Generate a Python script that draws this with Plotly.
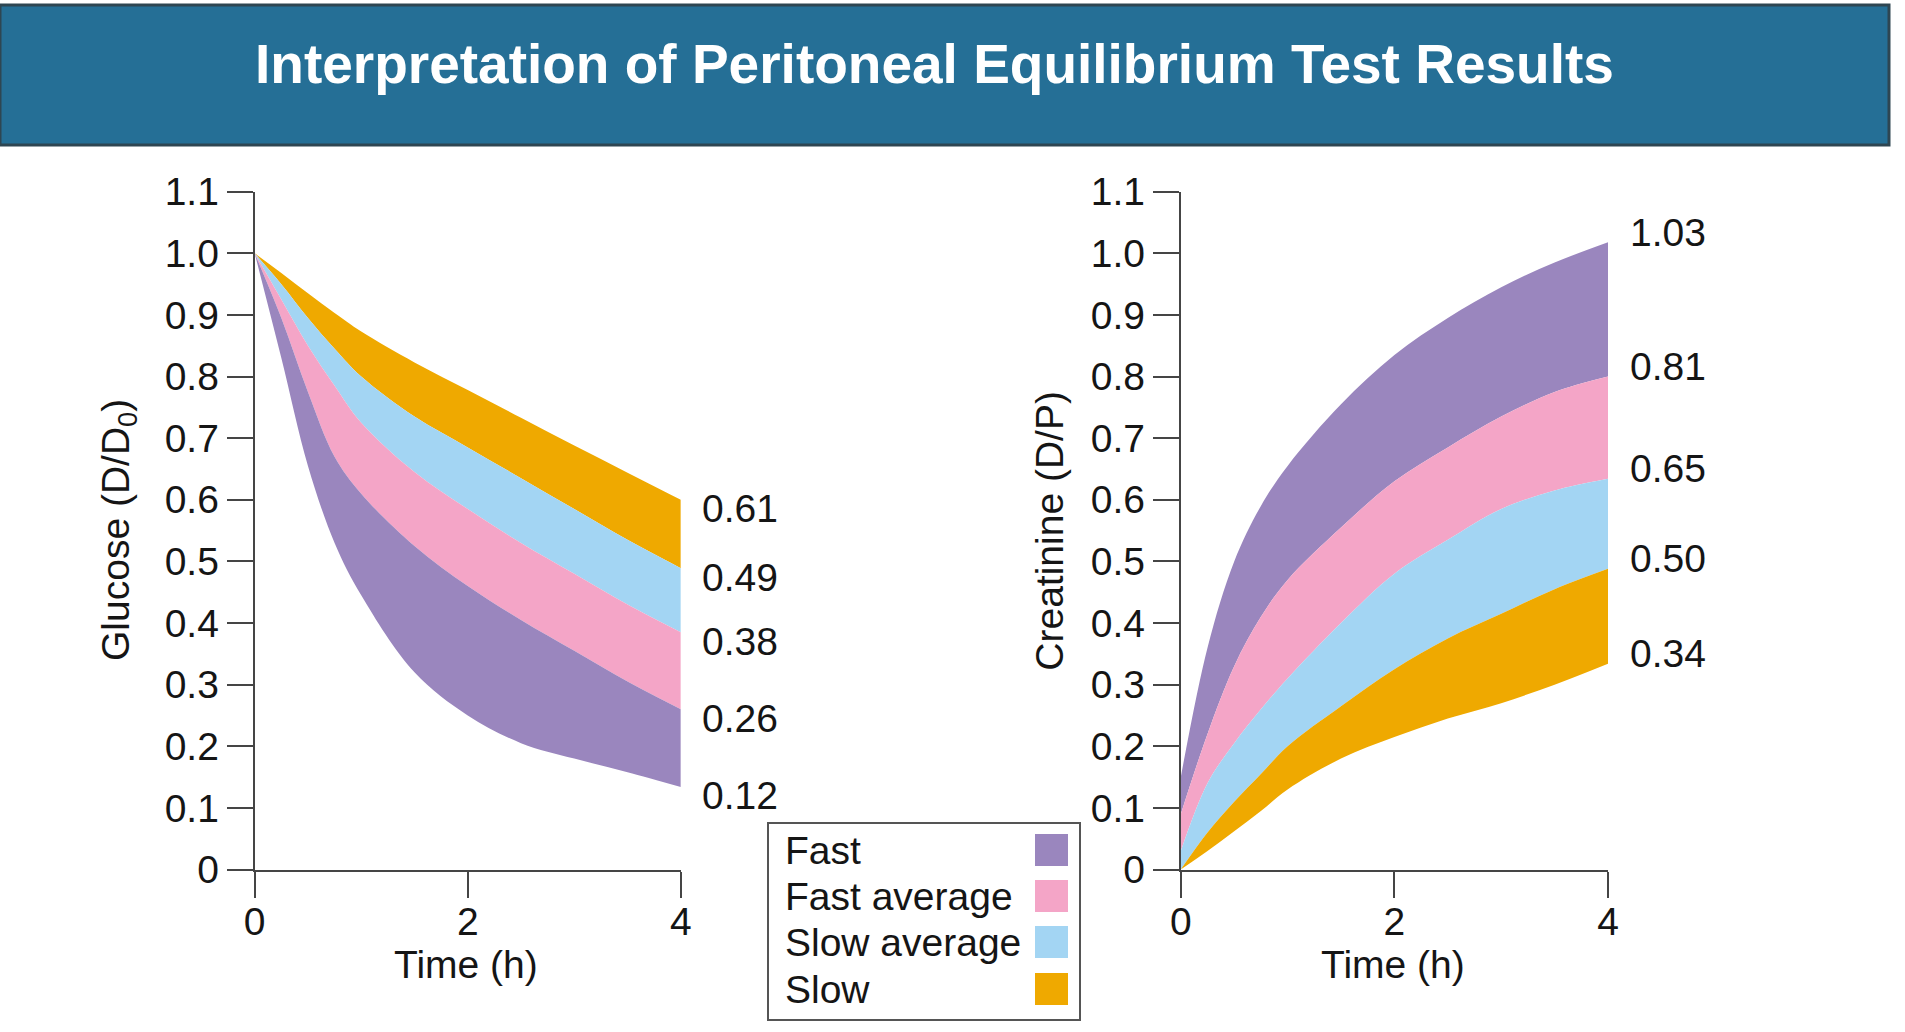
import plotly.graph_objects as go

W, H = 1905, 1032

# ---------------- data ----------------
time_h = [0, 0.25, 0.5, 0.75, 1.0, 1.5, 2.0, 2.5, 3.0, 3.5, 4.0]

categories = ["Fast", "Fast average", "Slow average", "Slow"]
band_colors = ["#9a86be", "#f4a5c7", "#a3d5f3", "#efa900"]

# Glucose D/D0 boundaries (upper to lower)
glu_b1 = [1.0, 0.968, 0.935, 0.903, 0.873, 0.823, 0.778, 0.733, 0.688, 0.644, 0.600]
glu_b2 = [1.0, 0.950, 0.895, 0.845, 0.800, 0.735, 0.685, 0.635, 0.585, 0.535, 0.489]
glu_b3 = [1.0, 0.925, 0.850, 0.785, 0.725, 0.645, 0.585, 0.530, 0.480, 0.430, 0.385]
glu_b4 = [1.0, 0.895, 0.775, 0.670, 0.610, 0.525, 0.460, 0.405, 0.355, 0.305, 0.260]
glu_b5 = [1.0, 0.830, 0.655, 0.530, 0.445, 0.320, 0.250, 0.205, 0.180, 0.158, 0.134]
glu_labels = ["0.61", "0.49", "0.38", "0.26", "0.12"]

# Creatinine D/P boundaries (upper to lower)
cr_b1 = [0.150, 0.360, 0.500, 0.590, 0.655, 0.755, 0.835, 0.895, 0.945, 0.985, 1.018]
cr_b2 = [0.090, 0.220, 0.330, 0.410, 0.470, 0.555, 0.630, 0.685, 0.735, 0.775, 0.800]
cr_b3 = [0.030, 0.140, 0.205, 0.260, 0.310, 0.400, 0.480, 0.535, 0.585, 0.615, 0.634]
cr_b4 = [0.000, 0.060, 0.110, 0.155, 0.200, 0.265, 0.325, 0.375, 0.415, 0.455, 0.488]
cr_b5 = [0.000, 0.030, 0.062, 0.095, 0.130, 0.180, 0.215, 0.245, 0.270, 0.300, 0.334]
cr_labels = ["1.03", "0.81", "0.65", "0.50", "0.34"]

y_ticks = [0, 0.1, 0.2, 0.3, 0.4, 0.5, 0.6, 0.7, 0.8, 0.9, 1.0, 1.1]
y_ticktext = ["0", "0.1", "0.2", "0.3", "0.4", "0.5", "0.6", "0.7", "0.8", "0.9", "1.0", "1.1"]
x_ticks = [0, 2, 4]

title_text = "Interpretation of Peritoneal Equilibrium Test Results"

# ---------------- helpers ----------------
FONT = "Liberation Sans, Arial, Helvetica, sans-serif"
AX = "#454545"
TXT = "#151515"


def px(x):
    return x / W


def py(y):
    return 1 - y / H


fig = go.Figure()


def add_band(lower, upper, color, xa, ya):
    fig.add_trace(go.Scatter(x=time_h, y=lower, mode="lines", line=dict(width=0, color=color, shape="spline"),
                             xaxis=xa, yaxis=ya, showlegend=False, hoverinfo="skip"))
    fig.add_trace(go.Scatter(x=time_h, y=upper, mode="lines", line=dict(width=0, color=color, shape="spline"),
                             fill="tonexty", fillcolor=color,
                             xaxis=xa, yaxis=ya, showlegend=False, hoverinfo="skip"))


# glucose bands: Slow (top) ... Fast (bottom)
glu_bounds = [glu_b1, glu_b2, glu_b3, glu_b4, glu_b5]
glu_order = ["Slow", "Slow average", "Fast average", "Fast"]
for i, name in enumerate(glu_order):
    add_band(glu_bounds[i + 1], glu_bounds[i], band_colors[categories.index(name)], "x", "y")

# creatinine bands: Fast (top) ... Slow (bottom)
cr_bounds = [cr_b1, cr_b2, cr_b3, cr_b4, cr_b5]
cr_order = ["Fast", "Fast average", "Slow average", "Slow"]
for i, name in enumerate(cr_order):
    add_band(cr_bounds[i + 1], cr_bounds[i], band_colors[categories.index(name)], "x2", "y2")

xdom1 = [px(254.7), px(680.8)]
xdom2 = [px(1180.8), px(1608.0)]
ydom = [py(869.5), py(191.7)]

axis_common = dict(showgrid=False, zeroline=False, showline=True, linecolor=AX, linewidth=2,
                   ticks="outside", ticklen=26, tickwidth=2, tickcolor=AX, automargin=False,
                   tickfont=dict(family=FONT, size=39, color=TXT))

fig.update_layout(
    width=W, height=H, autosize=False,
    margin=dict(l=0, r=0, t=0, b=0, pad=0, autoexpand=False),
    paper_bgcolor="white", plot_bgcolor="white",
    showlegend=False,
    xaxis=dict(domain=xdom1, range=[0, 4], tickvals=x_ticks, anchor="y", ticklabelstandoff=-9, **axis_common),
    yaxis=dict(domain=ydom, range=[0, 1.1], tickvals=y_ticks, ticktext=y_ticktext, anchor="x",
               ticklabelstandoff=0, **axis_common),
    xaxis2=dict(domain=xdom2, range=[0, 4], tickvals=x_ticks, anchor="y2", ticklabelstandoff=-9, **axis_common),
    yaxis2=dict(domain=ydom, range=[0, 1.1], tickvals=y_ticks, ticktext=y_ticktext, anchor="x2",
                ticklabelstandoff=0, **axis_common),
)

shapes = []
annotations = []

# title banner
shapes.append(dict(type="rect", xref="paper", yref="paper", x0=px(0), x1=px(1889), y0=py(145), y1=py(5),
                   fillcolor="#256f96", line=dict(color="#2e4652", width=3), layer="below"))
annotations.append(dict(xref="paper", yref="paper", x=px(934), y=py(64), text="<b>%s</b>" % title_text,
                        showarrow=False, xanchor="center", yanchor="middle",
                        font=dict(family=FONT, size=55, color="white")))

# axis titles
annotations.append(dict(xref="paper", yref="paper", x=px(465.5), y=py(964), text="Time (h)", showarrow=False,
                        xanchor="center", yanchor="middle", font=dict(family=FONT, size=39, color=TXT)))
annotations.append(dict(xref="paper", yref="paper", x=px(1392.5), y=py(964), text="Time (h)", showarrow=False,
                        xanchor="center", yanchor="middle", font=dict(family=FONT, size=39, color=TXT)))
annotations.append(dict(xref="paper", yref="paper", x=px(118), y=py(530), text="Glucose (D/D<sub>0</sub>)",
                        showarrow=False, textangle=-90, xanchor="center", yanchor="middle",
                        font=dict(family=FONT, size=39, color=TXT)))
annotations.append(dict(xref="paper", yref="paper", x=px(1050), y=py(530.7), text="Creatinine (D/P)",
                        showarrow=False, textangle=-90, xanchor="center", yanchor="middle",
                        font=dict(family=FONT, size=39, color=TXT)))

# end labels
for lab, b in zip(glu_labels, glu_bounds):
    annotations.append(dict(xref="x", yref="y", x=time_h[-1], y=b[-1], text=lab, showarrow=False,
                            xanchor="left", yanchor="middle", xshift=19, yshift=-9,
                            font=dict(family=FONT, size=39, color=TXT)))
for lab, b in zip(cr_labels, cr_bounds):
    annotations.append(dict(xref="x2", yref="y2", x=time_h[-1], y=b[-1], text=lab, showarrow=False,
                            xanchor="left", yanchor="middle", xshift=20, yshift=10,
                            font=dict(family=FONT, size=39, color=TXT)))

# legend box
shapes.append(dict(type="rect", xref="paper", yref="paper", x0=px(768), x1=px(1080), y0=py(1020), y1=py(823),
                   fillcolor="white", line=dict(color="#555555", width=2)))
row_y = [850, 896, 942, 989]
for name, col, ry in zip(categories, band_colors, row_y):
    annotations.append(dict(xref="paper", yref="paper", x=px(783), y=py(ry), text=name, showarrow=False,
                            xanchor="left", yanchor="middle", font=dict(family=FONT, size=39, color=TXT)))
    shapes.append(dict(type="rect", xref="paper", yref="paper", x0=px(1035), x1=px(1068),
                       y0=py(ry + 16), y1=py(ry - 16), fillcolor=col, line=dict(width=0)))

fig.update_layout(shapes=shapes, annotations=annotations)

fig.write_html("out.html")
